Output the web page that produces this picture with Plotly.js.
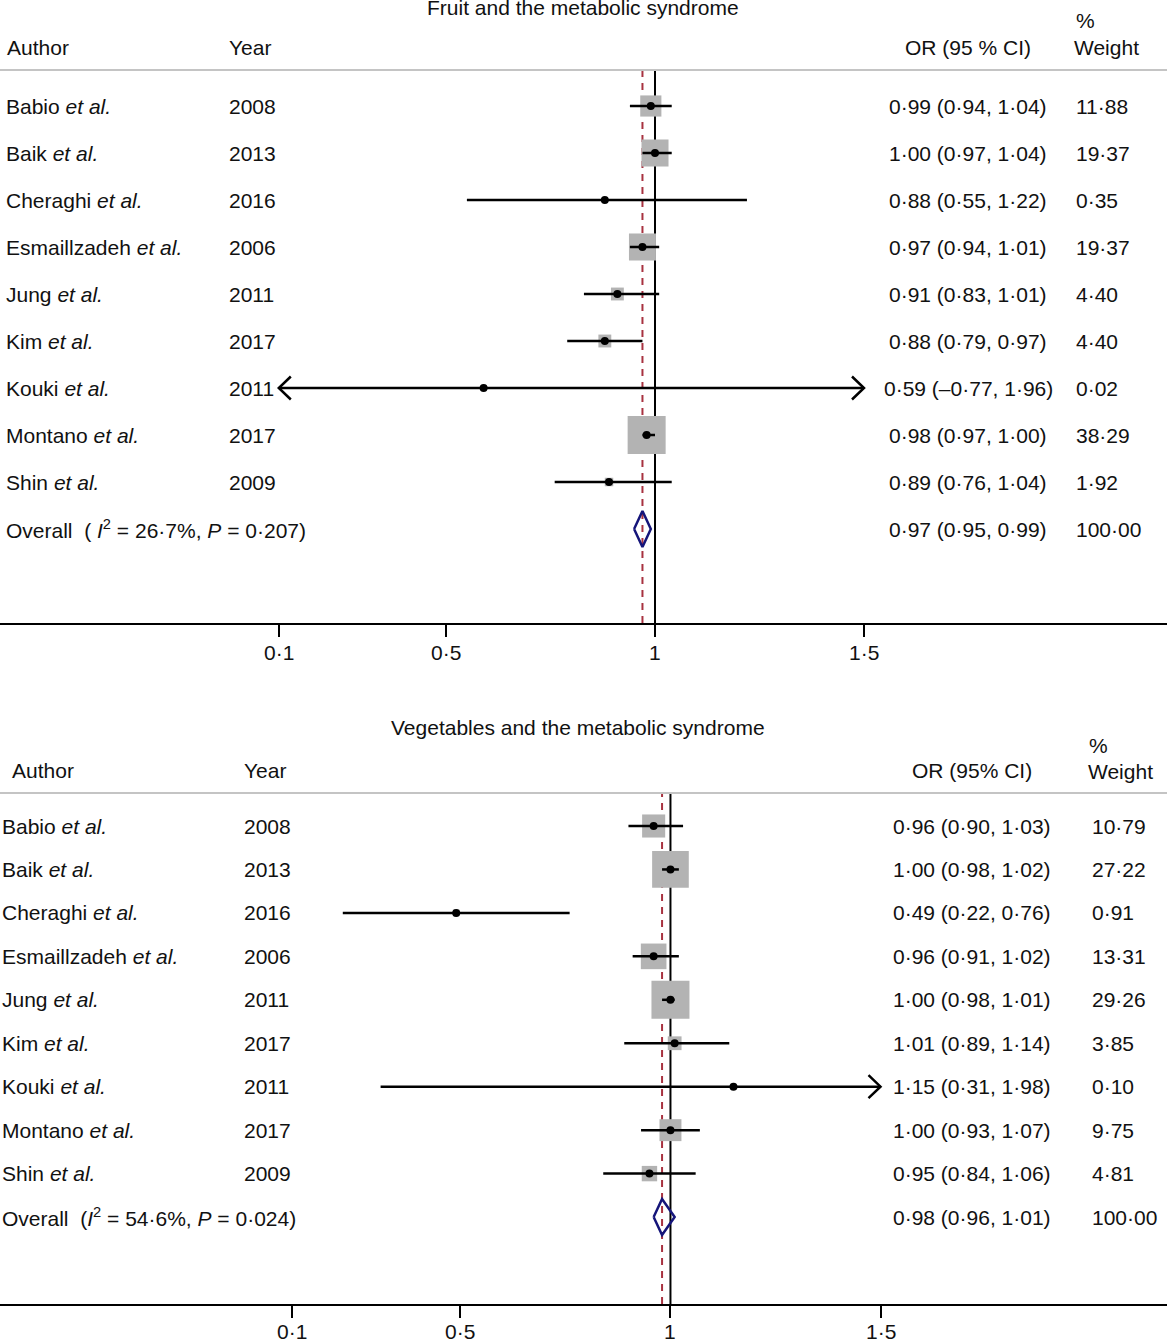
<!DOCTYPE html>
<html><head><meta charset="utf-8">
<script src="https://cdn.plot.ly/plotly-3.0.1.min.js"></script>
<style>html,body{margin:0;padding:0;background:#fff}#chart{width:1167px;height:1340px}</style>
</head><body><div id="chart"></div>
<script>
// ---------------- DATA ----------------
const authors = ['Babio', 'Baik', 'Cheraghi', 'Esmaillzadeh', 'Jung', 'Kim', 'Kouki', 'Montano', 'Shin'];
const years = [2008, 2013, 2016, 2006, 2011, 2017, 2011, 2017, 2009];

const fruitOR = [0.99, 1.00, 0.88, 0.97, 0.91, 0.88, 0.59, 0.98, 0.89];
const fruitLo = [0.94, 0.97, 0.55, 0.94, 0.83, 0.79, -0.77, 0.97, 0.76];
const fruitHi = [1.04, 1.04, 1.22, 1.01, 1.01, 0.97, 1.96, 1.00, 1.04];
const fruitW = [11.88, 19.37, 0.35, 19.37, 4.40, 4.40, 0.02, 38.29, 1.92];
const fruitOverall = [0.97, 0.95, 0.99]; // OR, lo, hi
const fruitI2 = 26.7, fruitP = 0.207;

const vegOR = [0.96, 1.00, 0.49, 0.96, 1.00, 1.01, 1.15, 1.00, 0.95];
const vegLo = [0.90, 0.98, 0.22, 0.91, 0.98, 0.89, 0.31, 0.93, 0.84];
const vegHi = [1.03, 1.02, 0.76, 1.02, 1.01, 1.14, 1.98, 1.07, 1.06];
const vegW = [10.79, 27.22, 0.91, 13.31, 29.26, 3.85, 0.10, 9.75, 4.81];
const vegOverall = [0.98, 0.96, 1.01];
const vegI2 = 54.6, vegP = 0.024;

const tickVals = [0.1, 0.5, 1, 1.5];
const tickText = ['0·1', '0·5', '1', '1·5'];
const titles = ['Fruit and the metabolic syndrome', 'Vegetables and the metabolic syndrome'];
const orHeaders = ['OR (95 % CI)', 'OR (95% CI)'];

// ---------------- LAYOUT CONFIG ----------------
const W = 1167, H = 1340;
const FONT = '"Liberation Sans", Arial, sans-serif';
const TXT = '#111111';
const FS = 21;
const px2x = p => p / W;
const px2y = p => 1 - p / H;
const dot = (v, d) => (v < 0 ? '–' : '') + Math.abs(v).toFixed(d).replace('.', '·');

const panels = [
  { or: fruitOR, lo: fruitLo, hi: fruitHi, w: fruitW, ov: fruitOverall, i2: fruitI2, p: fruitP,
    title: titles[0], orHead: orHeaders[0], xa: 'x', ya: 'y', xr: [-0.567, 2.2249],
    topPx: 0, axisPx: 623, row0: 106, step: 47, sepPx: 70, titlePx: 8, tickLabPx: 652,
    headPx: 47, pctPx: 20, wHeadPx: 47, titleX: 583,
    authorHeadX: 6, authorX: 5, yearX: 228, orC: 968, wHeadX: 1073, pctX: 1075, wX: 1075,
    overallSpace: ' ' },
  { or: vegOR, lo: vegLo, hi: vegHi, w: vegW, ov: vegOverall, i2: vegI2, p: vegP,
    title: titles[1], orHead: orHeaders[1], xa: 'x2', ya: 'y2', xr: [-0.596, 2.182],
    topPx: 690, axisPx: 1304, row0: 826, step: 43.45, sepPx: 793, titlePx: 728, tickLabPx: 1331,
    headPx: 770, pctPx: 745, wHeadPx: 772, titleX: 578,
    authorHeadX: 11, authorX: 1, yearX: 243, orC: 972, wHeadX: 1087, pctX: 1088, wX: 1091,
    overallSpace: '' }
];

const traces = [], shapes = [], annotations = [];
const layout = {
  width: W, height: H, margin: { l: 0, r: 0, t: 0, b: 0 },
  paper_bgcolor: '#fff', plot_bgcolor: '#fff', showlegend: false,
  font: { family: FONT, size: FS, color: TXT },
  shapes, annotations
};

panels.forEach((P, k) => {
  const n = P.or.length;
  const idx = P.or.map((_, i) => i);
  const vOf = px => (px - P.row0) / P.step;
  const xName = k === 0 ? 'xaxis' : 'xaxis2';
  const yName = k === 0 ? 'yaxis' : 'yaxis2';
  layout[xName] = {
    domain: [0, 1], range: P.xr, anchor: P.ya, showgrid: false, zeroline: false,
    showline: true, linecolor: '#000', linewidth: 2,
    ticks: 'outside', ticklen: 12, tickwidth: 2, tickcolor: '#000',
    tickvals: tickVals, showticklabels: false, fixedrange: true
  };
  layout[yName] = {
    domain: [px2y(P.axisPx), px2y(P.topPx)], range: [vOf(P.axisPx), vOf(P.topPx)],
    anchor: P.xa, visible: false, showgrid: false, zeroline: false, fixedrange: true
  };

  const lowClip = tickVals[0], highClip = tickVals[tickVals.length - 1];
  const pxPerX = W / (P.xr[1] - P.xr[0]);
  const ax = 12 / pxPerX, ay = 11.5 / P.step;
  const wMax = Math.max(...P.w);

  // weight squares
  traces.push({
    type: 'scatter', mode: 'markers', xaxis: P.xa, yaxis: P.ya, x: P.or, y: idx,
    marker: { symbol: 'square', color: '#b3b3b3', opacity: 1, size: P.w.map(w => 38 * Math.sqrt(w / wMax)), line: { width: 0 } },
    hoverinfo: 'skip'
  });
  // CI lines (clipped) and arrowheads
  const lx = [], ly = [], cx = [], cy = [];
  idx.forEach(i => {
    const a = Math.max(P.lo[i], lowClip), b = Math.min(P.hi[i], highClip);
    lx.push(a, b, null); ly.push(i, i, null);
    if (P.lo[i] < lowClip) { cx.push(a + ax, a, a + ax, null); cy.push(i - ay, i, i + ay, null); }
    if (P.hi[i] > highClip) { cx.push(b - ax, b, b - ax, null); cy.push(i - ay, i, i + ay, null); }
  });
  traces.push({ type: 'scatter', mode: 'lines', xaxis: P.xa, yaxis: P.ya, x: lx, y: ly,
    line: { color: '#000', width: 2.5 }, hoverinfo: 'skip' });
  traces.push({ type: 'scatter', mode: 'lines', xaxis: P.xa, yaxis: P.ya, x: cx, y: cy,
    line: { color: '#000', width: 2.5 }, hoverinfo: 'skip' });
  // point estimates
  traces.push({ type: 'scatter', mode: 'markers', xaxis: P.xa, yaxis: P.ya, x: P.or, y: idx,
    marker: { symbol: 'circle', color: '#000', size: 8 }, hoverinfo: 'skip' });
  // overall diamond
  const dh = 18 / P.step;
  traces.push({ type: 'scatter', mode: 'lines', xaxis: P.xa, yaxis: P.ya,
    x: [P.ov[1], P.ov[0], P.ov[2], P.ov[0], P.ov[1]], y: [n, n - dh, n, n + dh, n],
    line: { color: '#15157a', width: 2.5 }, hoverinfo: 'skip' });

  // vertical lines
  shapes.push({ type: 'line', layer: 'below', xref: P.xa, yref: 'paper', x0: 1, x1: 1,
    y0: px2y(P.axisPx), y1: px2y(P.sepPx), line: { color: '#000', width: 2 } });
  shapes.push({ type: 'line', layer: 'below', xref: P.xa, yref: 'paper', x0: P.ov[0], x1: P.ov[0],
    y0: px2y(P.axisPx), y1: px2y(P.sepPx), line: { color: '#a83240', width: 2, dash: '7px,6px' } });
  // header separator
  shapes.push({ type: 'line', layer: 'below', xref: 'paper', yref: 'paper', x0: 0, x1: 1,
    y0: px2y(P.sepPx), y1: px2y(P.sepPx), line: { color: '#c4c4c4', width: 2 } });

  const ann = (text, xpx, ypx, xanchor) => annotations.push({
    text, xref: 'paper', yref: 'paper', x: px2x(xpx), y: px2y(ypx), xanchor, yanchor: 'middle',
    showarrow: false, font: { family: FONT, size: FS, color: TXT }, borderpad: 0
  });
  const rowAnn = (text, xpx, i, xanchor) => annotations.push({
    text, xref: 'paper', yref: P.ya, x: px2x(xpx), y: i, xanchor, yanchor: 'middle',
    showarrow: false, font: { family: FONT, size: FS, color: TXT }, borderpad: 0
  });

  // tick labels placed on the axis scale
  tickVals.forEach((tv, j) => annotations.push({
    text: tickText[j], xref: P.xa, yref: 'paper', x: tv, y: px2y(P.tickLabPx),
    xanchor: 'center', yanchor: 'middle', showarrow: false, borderpad: 0,
    font: { family: FONT, size: FS, color: TXT }
  }));

  ann(P.title, P.titleX, P.titlePx, 'center');
  ann('Author', P.authorHeadX, P.headPx, 'left');
  ann('Year', P.yearX, P.headPx, 'left');
  ann(P.orHead, P.orC, P.headPx, 'center');
  ann('%', P.pctX, P.pctPx, 'left');
  ann('Weight', P.wHeadX, P.wHeadPx, 'left');

  idx.forEach(i => {
    rowAnn(authors[i] + ' <i>et al.</i>', P.authorX, i, 'left');
    rowAnn(String(years[i]), P.yearX, i, 'left');
    rowAnn(dot(P.or[i], 2) + ' (' + dot(P.lo[i], 2) + ', ' + dot(P.hi[i], 2) + ')', P.orC, i, 'center');
    rowAnn(dot(P.w[i], 2), P.wX, i, 'left');
  });
  const totalW = P.w.reduce((s, v) => s + v, 0);
  rowAnn('Overall  (' + P.overallSpace + '<i>I</i><sup>2</sup> = ' + dot(P.i2, 1) + '%, <i>P</i> = ' + dot(P.p, 3) + ')', P.authorX, n, 'left');
  rowAnn(dot(P.ov[0], 2) + ' (' + dot(P.ov[1], 2) + ', ' + dot(P.ov[2], 2) + ')', P.orC, n, 'center');
  rowAnn(dot(Math.round(totalW), 2), P.wX, n, 'left');
});

Plotly.newPlot('chart', traces, layout, { staticPlot: true, displayModeBar: false });
</script>
</body></html>
